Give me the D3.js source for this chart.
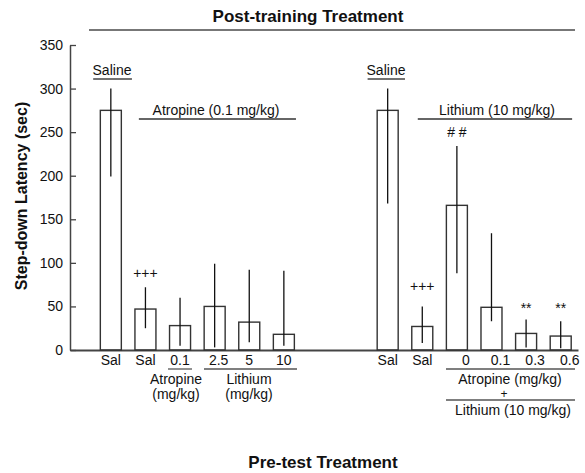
<!DOCTYPE html>
<html>
<head>
<meta charset="utf-8">
<script src="https://cdn.jsdelivr.net/npm/d3@7/dist/d3.min.js"></script>
<style>
  body { margin: 0; background: #fff; }
  svg text { font-family: "Liberation Sans", Arial, sans-serif; fill: #111; }
</style>
</head>
<body>
<div id="chart"></div>
<script>
// bar data (seconds)
var tickLabels = ["Sal", "Sal", "0.1", "2.5", "5", "10", "Sal", "Sal", "0", "0.1", "0.3", "0.6"];
var slots      = [1, 2, 3, 4, 5, 6, 9, 10, 11, 12, 13, 14];
var means      = [275, 47, 28, 50, 32, 18, 275, 27, 166, 49, 19, 16];
var errHigh    = [300, 72, 60, 99, 92, 91, 300, 50, 234, 134, 35, 33];
var errLow     = [199, 25, 5, 3, 9, 5, 168, 8, 88, 33, 3, 2];

// significance marks
var markBars = [1, 7, 8, 10, 11];
var markText = ["+++", "+++", "# #", "**", "**"];
var markAt   = [83, 68, 244, 43, 43];

var yTicks = [0, 50, 100, 150, 200, 250, 300, 350];

var width = 585, height = 473;

var svg = d3.select("#chart").append("svg")
    .attr("width", width)
    .attr("height", height);

var x = d3.scaleLinear().domain([-0.18, 14.5]).range([70, 578]);
var y = d3.scaleLinear().domain([0, 350]).range([350, 45]);
var barW = 21;

// y axis, ticks pointing in
var yAxis = svg.append("g")
    .attr("transform", "translate(70,0)")
    .call(d3.axisLeft(y).tickValues(yTicks).tickSizeInner(-6).tickSizeOuter(0).tickPadding(7));
yAxis.select(".domain").attr("stroke", "#444").attr("stroke-width", 1.5);
yAxis.selectAll(".tick line").attr("stroke", "#444").attr("stroke-width", 1.3);
yAxis.selectAll(".tick text").attr("font-size", "14px").attr("fill", "#111")
    .style("font-family", "'Liberation Sans', Arial, sans-serif");

// x axis line only
var xAxis = svg.append("g")
    .attr("transform", "translate(0," + y(0) + ")")
    .call(d3.axisBottom(x).tickValues([]).tickSizeOuter(0));
xAxis.select(".domain").attr("stroke", "#444").attr("stroke-width", 1.8);

var idx = d3.range(means.length);

// bars
svg.selectAll(".bar").data(idx).enter().append("rect")
    .attr("class", "bar")
    .attr("x", function(i){ return x(slots[i]) - barW / 2; })
    .attr("y", function(i){ return y(means[i]); })
    .attr("width", barW)
    .attr("height", function(i){ return y(0) - y(means[i]); })
    .attr("fill", "none")
    .attr("stroke", "#333")
    .attr("stroke-width", 1.4);

// error bars
svg.selectAll(".err").data(idx).enter().append("line")
    .attr("class", "err")
    .attr("x1", function(i){ return x(slots[i]); })
    .attr("x2", function(i){ return x(slots[i]); })
    .attr("y1", function(i){ return y(errHigh[i]); })
    .attr("y2", function(i){ return y(errLow[i]); })
    .attr("stroke", "#111")
    .attr("stroke-width", 1.3);

// tick labels under bars
svg.selectAll(".xlab").data(idx).enter().append("text")
    .attr("class", "xlab")
    .attr("x", function(i){ return x(slots[i]) + (i >= 8 ? 9 : (i === 3 ? 4 : 0)); })
    .attr("y", 365)
    .attr("text-anchor", "middle")
    .attr("font-size", "14px")
    .text(function(i){ return tickLabels[i]; });

// significance marks
svg.selectAll(".mark").data(d3.range(markBars.length)).enter().append("text")
    .attr("class", "mark")
    .attr("x", function(k){ return x(slots[markBars[k]]); })
    .attr("y", function(k){ return y(markAt[k]); })
    .attr("text-anchor", "middle")
    .attr("font-size", "14px")
    .text(function(k){ return markText[k]; });

// helper for labels and bracket lines
function label(txt, cx, cy, size, bold){
    svg.append("text")
        .attr("x", cx).attr("y", cy)
        .attr("text-anchor", "middle")
        .attr("font-size", size + "px")
        .attr("font-weight", bold ? "bold" : "normal")
        .text(txt);
}
function hline(x1, x2, yy, col, sw){
    svg.append("line")
        .attr("x1", x1).attr("x2", x2)
        .attr("y1", yy).attr("y2", yy)
        .attr("stroke", col)
        .attr("stroke-width", sw);
}

// top title
label("Post-training Treatment", 308, 22, 17, true);
hline(89, 575, 30, "#777", 2);

// upper group brackets
label("Saline", 112, 75, 14);
hline(x(0.49), x(1.61), 79, "#444", 1.3);
label("Atropine (0.1 mg/kg)", 216, 115, 14);
hline(x(1.81), x(6.35), 119, "#333", 1.3);
label("Saline", 386, 75, 14);
hline(x(8.42), x(9.5), 79, "#444", 1.3);
label("Lithium (10 mg/kg)", 497, 115, 14);
hline(x(9.87), x(14.33), 119, "#333", 1.3);

// lower brackets
hline(168, 192, 369, "#555", 1.3);
hline(204, 297, 369, "#555", 1.3);
label("Atropine", 176, 384, 14);
label("(mg/kg)", 176, 399, 14);
label("Lithium", 249, 384, 14);
label("(mg/kg)", 249, 399, 14);

hline(446, 575, 369, "#555", 1.6);
label("Atropine (mg/kg)", 510, 384, 14);
label("+", 504, 398, 12);
hline(446, 575, 400, "#555", 1.6);
label("Lithium (10 mg/kg)", 513, 415, 14);

// axis titles
label("Pre-test Treatment", 323, 468, 17, true);
svg.append("text")
    .attr("transform", "translate(27,196) rotate(-90)")
    .attr("text-anchor", "middle")
    .attr("font-size", "16px")
    .attr("font-weight", "bold")
    .text("Step-down Latency (sec)");
</script>
</body>
</html>
